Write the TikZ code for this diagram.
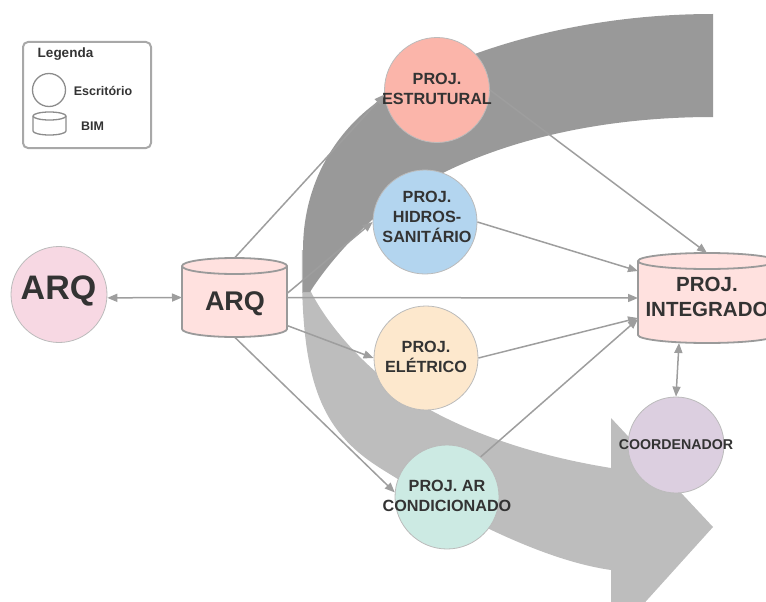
\documentclass[tikz,border=0pt]{standalone}
\usepackage{fontspec}
\setmainfont{Liberation Sans}
\usetikzlibrary{arrows.meta,calc}
\definecolor{darkband}{HTML}{999999}
\definecolor{lightband}{HTML}{BDBDBD}
\definecolor{linegray}{HTML}{9E9E9E}
\definecolor{txt}{HTML}{333333}
\definecolor{cylfill}{HTML}{FFE1DF}
\definecolor{cylline}{HTML}{9A9A9A}
\definecolor{arqpink}{HTML}{F7D8E3}
\definecolor{estrc}{HTML}{FBB5AA}
\definecolor{hidc}{HTML}{B3D5EF}
\definecolor{eletc}{HTML}{FDE8CD}
\definecolor{arcc}{HTML}{CCEAE3}
\definecolor{coordc}{HTML}{DCCFE0}
\definecolor{circline}{HTML}{BBBBBB}
\definecolor{boxline}{HTML}{A8A8A8}
\definecolor{legline}{HTML}{8C8C8C}
\pgfdeclarelayer{band}
\pgfdeclarelayer{cyl}
\pgfsetlayers{band,cyl,main}
\newcommand\cylshape[5]{%
  \draw[fill=#4,#5,line join=round] ([yshift=#3]#1.south west) arc[start angle=180,end angle=360,x radius=#2,y radius=#3] -- ([yshift=-#3]#1.north east) arc[start angle=0,end angle=180,x radius=#2,y radius=#3] -- cycle;
  \draw[#5] ([yshift=-#3]#1.north west) arc[start angle=180,end angle=360,x radius=#2,y radius=#3];}
\begin{document}
\begin{tikzpicture}[x=1pt,y=-1pt,
  circ/.style={circle,draw=circline,line width=0.8pt,inner sep=0pt,minimum size=#1},
  ptext/.style={text=txt,font=\bfseries\fontsize{16.2}{20}\selectfont,align=center,inner sep=0pt},
  ltext/.style={text=txt,font=\bfseries\fontsize{12.5}{15}\selectfont,inner sep=0pt},
  cylbox/.style={rectangle,inner sep=0pt,outer sep=0pt},
  conn/.style={draw=linegray,line width=1.5pt,-{Triangle[length=10pt,width=8pt]}},
  dconn/.style={draw=linegray,line width=1.5pt,{Triangle[length=10pt,width=8pt]}-{Triangle[length=10pt,width=8pt]}}]
\useasboundingbox (0,0) rectangle (766,602);
% big curved arrow
\begin{pgfonlayer}{band}
\fill[lightband] (302,250) .. controls (300,380) and (320,430) .. (380,468) .. controls (450,512) and (540,560) .. (611,570) -- (611,640) -- (713,527) -- (611,418) -- (611,468) .. controls (530,455) and (460,430) .. (410,398) .. controls (370,372) and (330,330) .. (310,290) -- (308,250) -- cycle;
\fill[darkband] (713,14) .. controls (560,14) and (440,60) .. (380,100) .. controls (330,135) and (303,190) .. (303,250) -- (303,292) -- (310,292) .. controls (325,268) and (355,232) .. (390,205) .. controls (450,160) and (560,117) .. (713,117) -- cycle;
\end{pgfonlayer}
% legend
\node[draw=boxline,line width=2pt,rounded corners=5pt,minimum width=128pt,minimum height=106pt,inner sep=0pt] (legend) at (87,95) {};
\node[ltext,font=\bfseries\fontsize{13.5}{16}\selectfont] (legT) at (65.5,54) {Legenda};
\node[circle,draw=legline,line width=1.3pt,minimum size=33pt,inner sep=0pt] (lcirc) at (49,90) {};
\node[ltext] (lcircT) at (103,91) {Escritório};
\node[cylbox,minimum width=33pt,minimum height=23pt] (lcyl) at (49.5,123.5) {};
\node[ltext] (lcylT) at (92.5,126) {BIM};
% main nodes
\node[circ=96pt,fill=arqpink] (arq) at (59,294.5) {};
\node[text=txt,font=\bfseries\fontsize{34}{40}\selectfont,inner sep=0pt] (arqT) at (58.5,291) {ARQ};
\node[cylbox,minimum width=105pt,minimum height=79pt] (arqc) at (234.5,297.5) {};
\node[text=txt,font=\bfseries\fontsize{27}{32}\selectfont,inner sep=0pt] (arqcT) at (235,303.5) {ARQ};
\node[circ=105pt,fill=estrc] (estr) at (437,90) {};
\node[ptext] (estrT) at (437,89) {PROJ.\\ESTRUTURAL};
\node[circ=104pt,fill=hidc] (hid) at (425,222) {};
\node[ptext] (hidT) at (427,216.5) {PROJ.\\HIDROS-\\SANITÁRIO};
\node[circ=104pt,fill=eletc] (elet) at (426,358) {};
\node[ptext] (eletT) at (426,356.5) {PROJ.\\ELÉTRICO};
\node[circ=104pt,fill=arcc] (arc) at (447,497) {};
\node[ptext] (arcT) at (447,496) {PROJ. AR\\CONDICIONADO};
\node[cylbox,minimum width=138pt,minimum height=90pt] (integ) at (707,298) {};
\node[text=txt,font=\bfseries\fontsize{20.5}{25}\selectfont,align=center,inner sep=0pt] (integT) at (707,297) {PROJ.\\INTEGRADO};
\node[circ=96pt,fill=coordc] (coord) at (676,445) {};
\node[text=txt,font=\bfseries\fontsize{14.2}{17}\selectfont,inner sep=0pt] (coordT) at (676,444.5) {COORDENADOR};
% cylinders
\begin{pgfonlayer}{cyl}
\cylshape{arqc}{52.5pt}{8pt}{cylfill}{draw=cylline,line width=1.8pt}
\cylshape{integ}{69pt}{8pt}{cylfill}{draw=cylline,line width=1.8pt}
\cylshape{lcyl}{16.5pt}{4pt}{white}{draw=legline,line width=1.3pt}
\end{pgfonlayer}
% connectors
\draw[dconn] (arq.-4) -- (arqc.west);
\draw[conn] (arqc.north) -- (estr.185);
\draw[conn] ([yshift=4pt]arqc.east) -- (hid.west);
\draw[conn] (arqc.east) -- (integ.west);
\draw[conn] ([yshift=-28pt]arqc.east) -- (elet.west);
\draw[conn] (arqc.south) -- (arc.175);
\draw[conn] (estr.east) -- (integ.north);
\draw[conn] (hid.east) -- ([yshift=27pt]integ.west);
\draw[conn] (elet.east) -- ([yshift=-20pt]integ.west);
\draw[conn] (arc.50) -- ([yshift=-21pt]integ.west);
\draw[dconn] ([xshift=-28pt]integ.south) -- (coord.north);
\end{tikzpicture}
\end{document}
